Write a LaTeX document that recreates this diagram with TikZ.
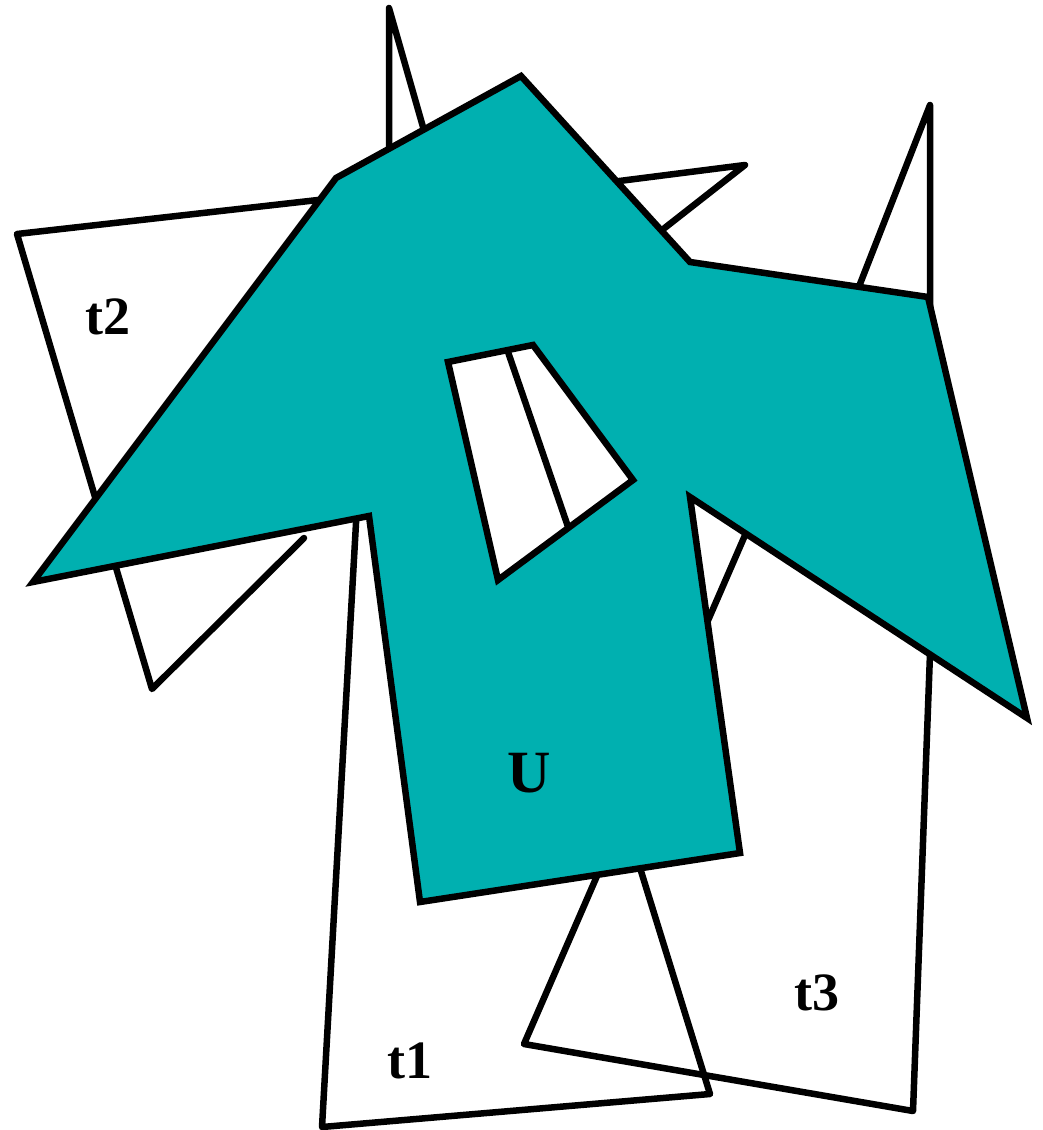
\documentclass[tikz,border=0pt]{standalone}
\usepackage{fontspec}
\setmainfont{Liberation Serif}
\definecolor{uteal}{RGB}{0,176,176}

\begin{document}
\begin{tikzpicture}[x=1pt, y=-1pt,
    piece/.style={draw, line width=6.5pt, line join=round, line cap=round},
    region/.style={draw, fill=uteal, line width=6.5pt, line join=miter, even odd rule},
    lbl/.style={anchor=base, font=\bfseries\fontsize{54}{60}\selectfont}]
    \useasboundingbox (0,0) rectangle (1043,1130);

    % --- pieces behind U ---
    \draw[piece] (389,8) -- (441,190) -- (389,200) -- cycle;
    \draw[piece] (745,165) -- (580,186) -- (620,263) -- cycle;
    \draw[piece] (930,105) -- (930,320) -- (842,330) -- cycle;
    \draw[piece] (473,250) -- (600,620);

    % --- t2 ---
    \draw[piece] (304,538) -- (152,689) -- (17,234) -- (380,193);
    \node[lbl] (t2) at (108,334) {t2};

    % --- t1 ---
    \draw[piece] (359,470) -- (322,1127) -- (710,1094) -- (619,800) -- cycle;
    \node[lbl] (t1) at (410,1078) {t1};

    % --- t3 ---
    \draw[piece] (769,480) -- (524,1044) -- (913,1111) -- (932,600) -- cycle;
    \node[lbl] (t3) at (817,1010) {t3};

    % --- U with its hole ---
    \draw[region] (336,178) -- (521,76) -- (690,262) -- (928,297) -- (1027,718)
        -- (690,497) -- (740,853) -- (420,902) -- (369,516) -- (33,582) -- cycle
        (448,362) -- (533,345) -- (633,480) -- (498,580) -- cycle;
    \node[lbl, font=\bfseries\fontsize{60}{66}\selectfont] (U) at (529,792) {U};
\end{tikzpicture}
\end{document}
